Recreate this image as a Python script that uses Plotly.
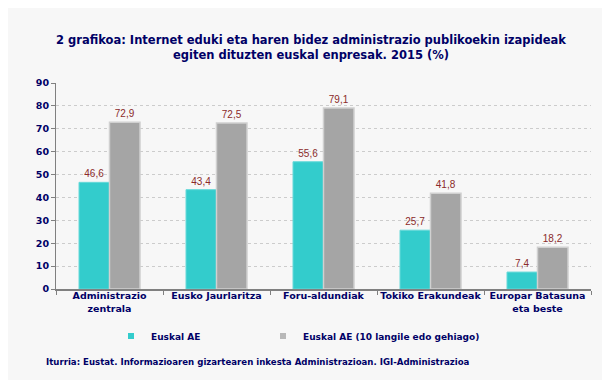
import plotly.graph_objects as go

categories = ["Administrazio<br>zentrala", "Eusko Jaurlaritza", "Foru-aldundiak", "Tokiko Erakundeak", "Europar Batasuna<br>eta beste"]
series_names = ["Euskal AE", "Euskal AE (10 langile edo gehiago)"]
values_all = [46.6, 43.4, 55.6, 25.7, 7.4]
values_10 = [72.9, 72.5, 79.1, 41.8, 18.2]
y_ticks = [0, 10, 20, 30, 40, 50, 60, 70, 80, 90]

navy = "#000066"
teal = "#33CCCC"
gray = "#A5A5A5"
def fmt(v):
    return f"{v:.1f}".replace(".", ",")

L, R, T, B = 48, 27, 75, 99
W, H = 610, 380
plot_w = W - L - R
plot_h = H - T - B
def px_x(x):
    return (x - L) / plot_w
def px_y(y):
    return (H - B - y) / plot_h

fig = go.Figure()
fig.add_trace(go.Bar(
    x=categories, y=values_all, name=series_names[0], showlegend=False,
    marker=dict(color=teal, line=dict(color="#66D9D9", width=1)),
    text=[fmt(v) for v in values_all], textposition="outside",
    textfont=dict(family="Liberation Sans, Arial", size=10, color="#8B2A2A"),
    cliponaxis=False,
))
fig.add_trace(go.Bar(
    x=categories, y=values_10, name=series_names[1], showlegend=False,
    marker=dict(color=gray, line=dict(color="#D0D0D0", width=1.5)),
    text=[fmt(v) for v in values_10], textposition="outside",
    textfont=dict(family="Liberation Sans, Arial", size=10, color="#8B2A2A"),
    cliponaxis=False,
))
# legend entries (one per legend so they can be placed as in the original)
fig.add_trace(go.Scatter(x=[None], y=[None], mode="markers", name=series_names[0], legend="legend",
                         marker=dict(symbol="square", size=6, color=teal)))
fig.add_trace(go.Scatter(x=[None], y=[None], mode="markers", name=series_names[1], legend="legend2",
                         marker=dict(symbol="square", size=6, color="#B8B8B8")))

legend_font = dict(family="DejaVu Sans", size=9, color=navy, weight="bold")
fig.update_layout(
    width=W, height=H,
    paper_bgcolor="#F7F7F7", plot_bgcolor="#F7F7F7",
    margin=dict(l=L, r=R, t=T, b=B, autoexpand=False),
    barmode="group", bargap=0.43, bargroupgap=0,
    font=dict(family="DejaVu Sans", color=navy),
    title=dict(
        text="2 grafikoa: Internet eduki eta haren bidez administrazio publikoekin izapideak<br>egiten dituzten euskal enpresak. 2015 (%)",
        x=303 / W, xanchor="center", y=1 - 36 / H, yanchor="middle",
        font=dict(family="DejaVu Sans", size=11.5, color=navy, weight="bold"),
    ),
    showlegend=True,
    legend=dict(
        orientation="h", x=px_x(151 - 48), xanchor="left", y=px_y(328), yanchor="middle",
        font=legend_font, itemwidth=30, bgcolor="rgba(0,0,0,0)",
    ),
    legend2=dict(
        orientation="h", x=px_x(303 - 48), xanchor="left", y=px_y(328), yanchor="middle",
        font=legend_font, itemwidth=30, bgcolor="rgba(0,0,0,0)",
    ),
    annotations=[dict(
        text="Iturria: Eustat. Informazioaren gizartearen inkesta Administrazioan. IGI-Administrazioa",
        x=px_x(36), xanchor="left", y=px_y(354), yanchor="middle",
        xref="paper", yref="paper", showarrow=False,
        font=dict(family="DejaVu Sans", size=8.6, color=navy, weight="bold"),
    )],
)

fig.update_yaxes(
    range=[0, 90], tickvals=y_ticks, showgrid=True, gridcolor="#CCCCCC", griddash="dot", gridwidth=1,
    showline=True, linecolor="#808080", linewidth=1, ticks="outside", ticklen=4, tickcolor="#808080",
    tickfont=dict(family="DejaVu Sans", size=9.5, color=navy, weight="bold"), zeroline=False,
    automargin=False,
)
fig.update_xaxes(
    showline=True, linecolor="#808080", linewidth=2, ticks="outside", ticklen=4, tickcolor="#808080",
    tickson="boundaries", tickangle=0, ticklabelstandoff=-3,
    tickfont=dict(family="DejaVu Sans", size=9.5, color=navy, weight="bold"),
    automargin=False,
)

fig.write_html("out.html")
